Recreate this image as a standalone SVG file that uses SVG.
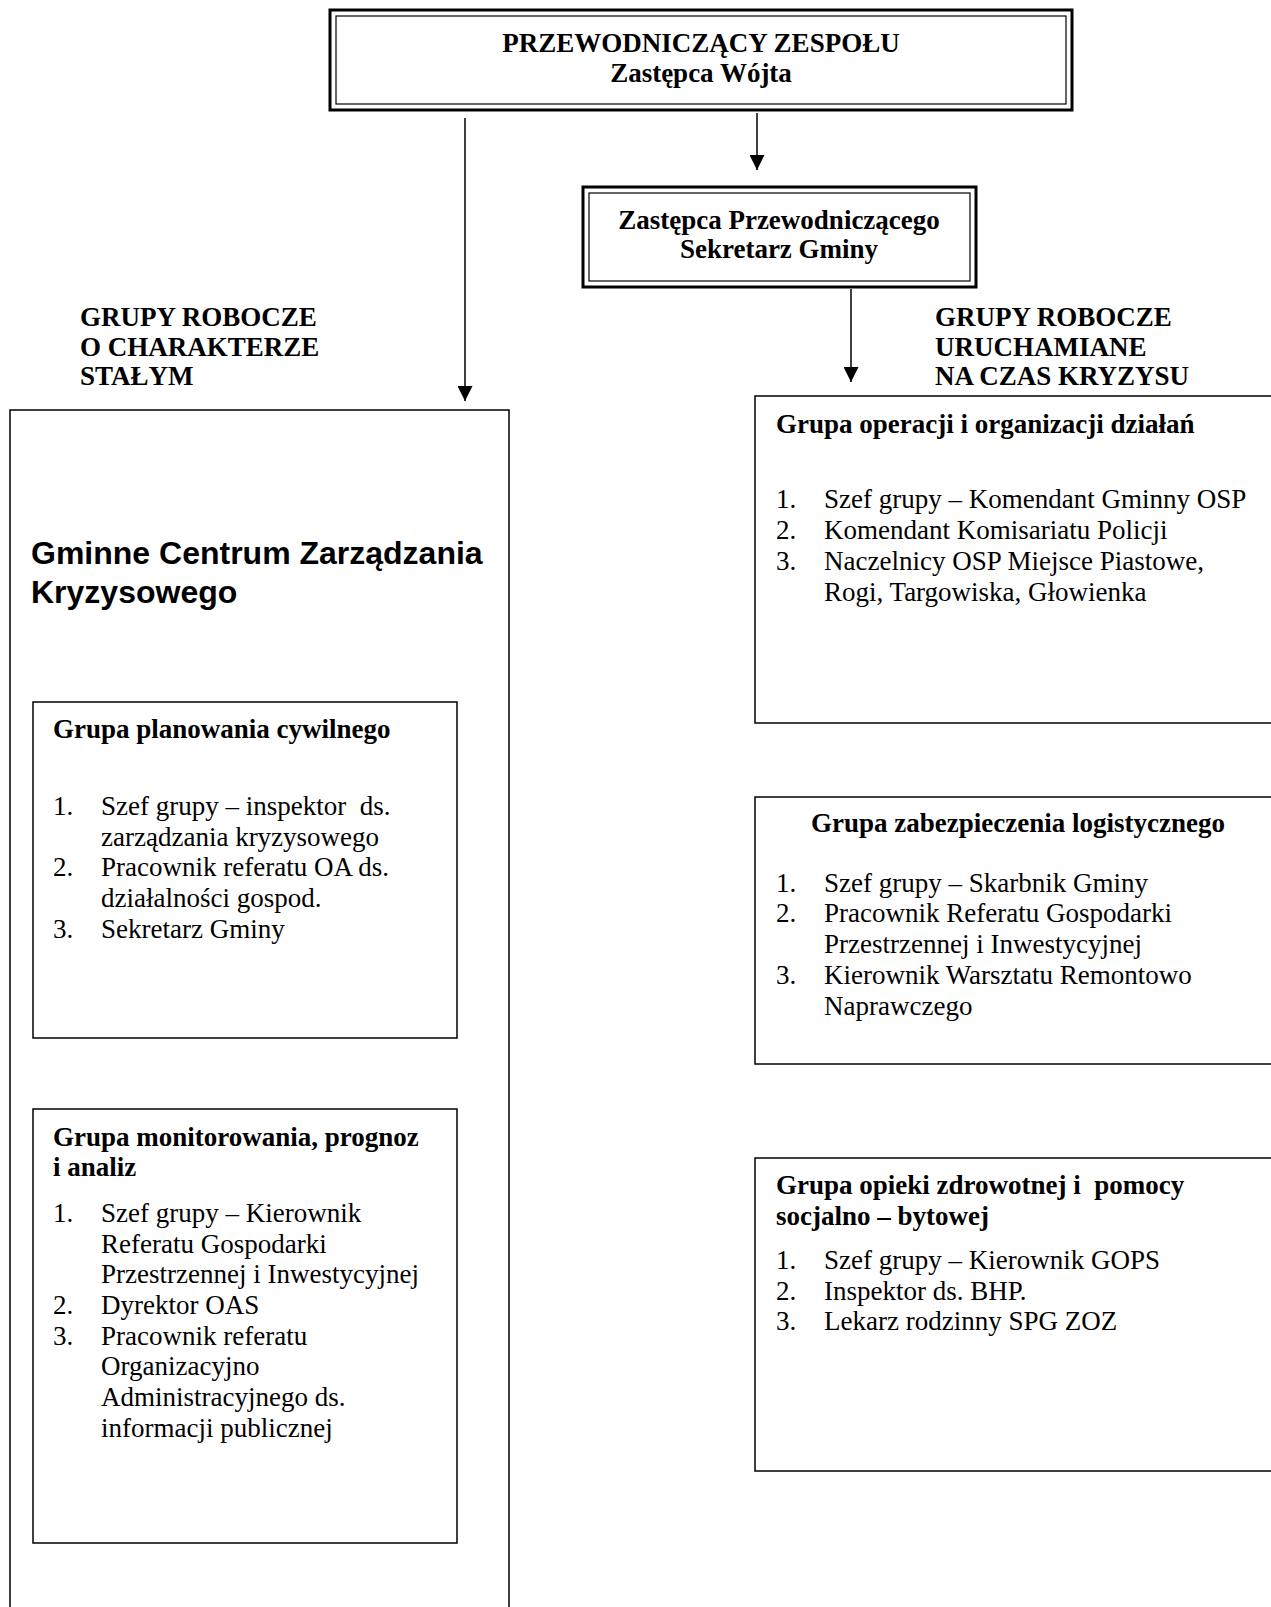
<svg xmlns="http://www.w3.org/2000/svg" width="1271" height="1607" viewBox="0 0 1271 1607">
<defs>
<style>
.box{fill:#fff;stroke:#000;stroke-width:1.5}
.dbl{fill:none;stroke:#000;stroke-width:3}
.dbli{fill:none;stroke:#000;stroke-width:1.2}
.ln{stroke:#000;stroke-width:1.5;fill:none}
.t{font-family:"Liberation Serif","Times New Roman",serif;font-size:27px;fill:#000}
.b{font-family:"Liberation Serif","Times New Roman",serif;font-size:27px;font-weight:bold;fill:#000}
.h{font-family:"Liberation Sans",Arial,sans-serif;font-size:32px;font-weight:bold;fill:#000}
</style>
<marker id="ar" viewBox="0 0 10 10" refX="10" refY="5" markerWidth="15" markerHeight="15" markerUnits="userSpaceOnUse" orient="auto">
<path d="M0,0 L10,5 L0,10 z" fill="#000"/>
</marker>
</defs>
<rect width="1271" height="1607" fill="#fff"/>

<g id="connectors">
<line class="ln" x1="465" y1="118" x2="465" y2="401" marker-end="url(#ar)"/>
<line class="ln" x1="757" y1="113" x2="757" y2="170" marker-end="url(#ar)"/>
<line class="ln" x1="851" y1="289" x2="851" y2="382" marker-end="url(#ar)"/>
</g>

<g id="przewodniczacy">
<rect class="dbl" x="330" y="10" width="742" height="100"/>
<rect class="dbli" x="336" y="16" width="730" height="88"/>
<text class="b" x="701" y="52" text-anchor="middle">PRZEWODNICZĄCY ZESPOŁU</text>
<text class="b" x="701" y="82" text-anchor="middle">Zastępca Wójta</text>
</g>

<g id="zastepca">
<rect class="dbl" x="583" y="187" width="393" height="100"/>
<rect class="dbli" x="589" y="193" width="381" height="88"/>
<text class="b" x="779" y="229" text-anchor="middle">Zastępca Przewodniczącego</text>
<text class="b" x="779" y="258" text-anchor="middle">Sekretarz Gminy</text>
</g>

<g id="label-stale">
<text class="b" x="80" y="326">GRUPY ROBOCZE</text>
<text class="b" x="80" y="356">O CHARAKTERZE</text>
<text class="b" x="80" y="385">STAŁYM</text>
</g>

<g id="label-kryzys">
<text class="b" x="935" y="326">GRUPY ROBOCZE</text>
<text class="b" x="935" y="356">URUCHAMIANE</text>
<text class="b" x="935" y="385">NA CZAS KRYZYSU</text>
</g>

<g id="gczk">
<path class="ln" d="M10,1610 L10,410 L509,410 L509,1610"/>
<text class="h" x="31" y="564">Gminne Centrum Zarządzania</text>
<text class="h" x="31" y="603">Kryzysowego</text>
</g>

<g id="planowanie">
<rect class="box" x="33" y="702" width="424" height="336"/>
<text class="b" x="53" y="738">Grupa planowania cywilnego</text>
<text class="t" x="53" y="815">1.</text><text class="t" x="101" y="815">Szef grupy – inspektor&#160; ds.</text>
<text class="t" x="101" y="846">zarządzania kryzysowego</text>
<text class="t" x="53" y="876">2.</text><text class="t" x="101" y="876">Pracownik referatu OA ds.</text>
<text class="t" x="101" y="907">działalności gospod.</text>
<text class="t" x="53" y="938">3.</text><text class="t" x="101" y="938">Sekretarz Gminy</text>
</g>

<g id="monitorowanie">
<rect class="box" x="33" y="1109" width="424" height="434"/>
<text class="b" x="53" y="1146">Grupa monitorowania, prognoz</text>
<text class="b" x="53" y="1176">i analiz</text>
<text class="t" x="53" y="1222">1.</text><text class="t" x="101" y="1222">Szef grupy – Kierownik</text>
<text class="t" x="101" y="1253">Referatu Gospodarki</text>
<text class="t" x="101" y="1283">Przestrzennej i Inwestycyjnej</text>
<text class="t" x="53" y="1314">2.</text><text class="t" x="101" y="1314">Dyrektor OAS</text>
<text class="t" x="53" y="1345">3.</text><text class="t" x="101" y="1345">Pracownik referatu</text>
<text class="t" x="101" y="1375">Organizacyjno</text>
<text class="t" x="101" y="1406">Administracyjnego ds.</text>
<text class="t" x="101" y="1437">informacji publicznej</text>
</g>

<g id="operacje">
<rect class="box" x="755" y="396" width="530" height="327"/>
<text class="b" x="776" y="433">Grupa operacji i organizacji działań</text>
<text class="t" x="776" y="508">1.</text><text class="t" x="824" y="508">Szef grupy – Komendant Gminny OSP</text>
<text class="t" x="776" y="539">2.</text><text class="t" x="824" y="539">Komendant Komisariatu Policji</text>
<text class="t" x="776" y="570">3.</text><text class="t" x="824" y="570">Naczelnicy OSP Miejsce Piastowe,</text>
<text class="t" x="824" y="601">Rogi, Targowiska, Głowienka</text>
</g>

<g id="logistyka">
<rect class="box" x="755" y="797" width="530" height="267"/>
<text class="b" x="811" y="832">Grupa zabezpieczenia logistycznego</text>
<text class="t" x="776" y="892">1.</text><text class="t" x="824" y="892">Szef grupy – Skarbnik Gminy</text>
<text class="t" x="776" y="922">2.</text><text class="t" x="824" y="922">Pracownik Referatu Gospodarki</text>
<text class="t" x="824" y="953">Przestrzennej i Inwestycyjnej</text>
<text class="t" x="776" y="984">3.</text><text class="t" x="824" y="984">Kierownik Warsztatu Remontowo</text>
<text class="t" x="824" y="1015">Naprawczego</text>
</g>

<g id="opieka">
<rect class="box" x="755" y="1158" width="530" height="313"/>
<text class="b" x="776" y="1194">Grupa opieki zdrowotnej i&#160; pomocy</text>
<text class="b" x="776" y="1225">socjalno – bytowej</text>
<text class="t" x="776" y="1269">1.</text><text class="t" x="824" y="1269">Szef grupy – Kierownik GOPS</text>
<text class="t" x="776" y="1300">2.</text><text class="t" x="824" y="1300">Inspektor ds. BHP.</text>
<text class="t" x="776" y="1330">3.</text><text class="t" x="824" y="1330">Lekarz rodzinny SPG ZOZ</text>
</g>
</svg>
